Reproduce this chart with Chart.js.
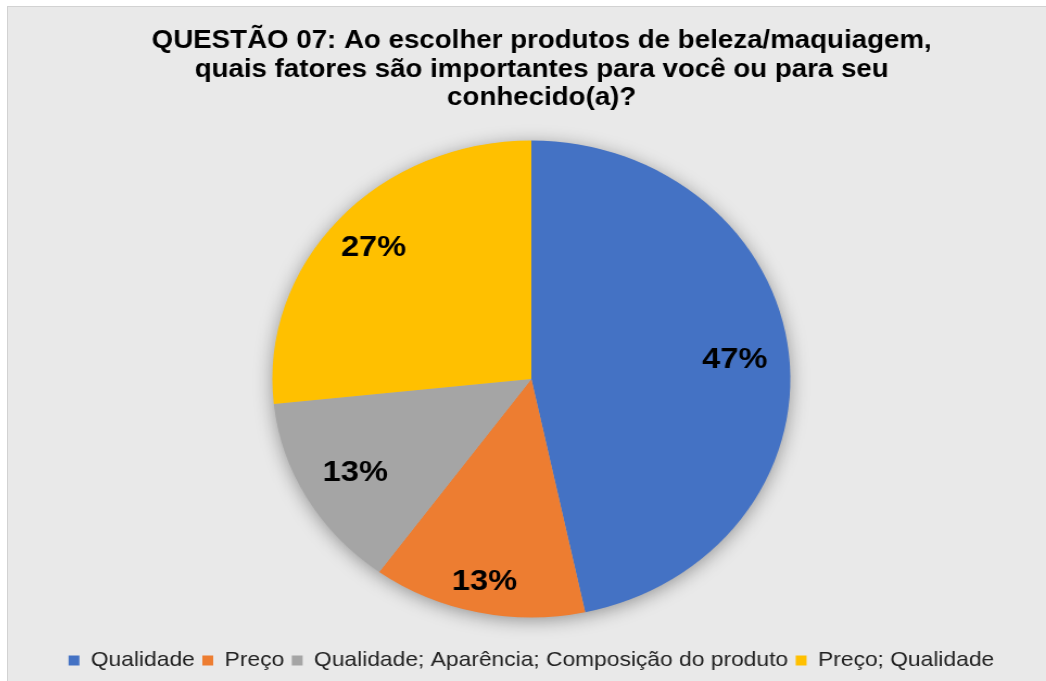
<!DOCTYPE html>
<html>
<head>
<meta charset="utf-8">
<script src="https://cdn.jsdelivr.net/npm/chart.js@4/dist/chart.umd.min.js"></script>
<style>
  html, body { margin: 0; padding: 0; background: #ffffff; width: 1046px; height: 681px; overflow: hidden; }
  #frame { position: absolute; left: 7px; top: 6px; width: 1039px; height: 675px; background: #e9e9e9;
           border-top: 1px solid #d2d2d2; border-left: 1px solid #d2d2d2; overflow: hidden; }
  #stretch { position: absolute; left: 0; top: 0; width: 956px; height: 674px; transform: scaleX(1.0858); transform-origin: 0 0; }
</style>
</head>
<body>
<div id="frame"><div id="stretch"><canvas id="c"></canvas></div></div>
<script>
// ---- data ----
const categories = ['Qualidade', 'Preço', 'Qualidade; Aparência; Composição do produto', 'Preço; Qualidade'];
const counts = [7, 2, 2, 4];
const sliceColors = ['#4472C4', '#ED7D31', '#A5A5A5', '#FFC000'];
const titleLines = [
  'QUESTÃO 07: Ao escolher produtos de beleza/maquiagem,',
  'quais fatores são importantes para você ou para seu',
  'conhecido(a)?'
];

Chart.defaults.font.family = '"Liberation Sans", Arial, sans-serif';

// spacer box on the right, to offset the pie slightly left of the title centre
const spacerPlugin = {
  id: 'spacer',
  beforeInit(chart) {
    const box = {
      position: 'right', weight: 0, fullSize: false, options: {},
      left: 0, top: 0, right: 0, bottom: 0, width: 0, height: 0,
      isHorizontal() { return false; },
      update(maxWidth, maxHeight) {
        this.width = 19; this.height = maxHeight;
        return { width: 19, height: maxHeight };
      },
      draw() {}
    };
    Chart.layouts.addBox(chart, box);
  }
};

const shadowPlugin = {
  id: 'pieShadow',
  beforeDatasetsDraw(chart) {
    const meta = chart.getDatasetMeta(0);
    if (!meta.data.length) return;
    const a = meta.data[0];
    const ctx = chart.ctx;
    ctx.save();
    ctx.shadowColor = 'rgba(0,0,0,0.38)';
    ctx.shadowBlur = 18;
    ctx.shadowOffsetX = 0;
    ctx.shadowOffsetY = 3;
    ctx.fillStyle = '#b0b0b0';
    ctx.beginPath();
    ctx.arc(a.x, a.y, a.outerRadius - 0.5, 0, Math.PI * 2);
    ctx.fill();
    ctx.restore();
  }
};

const labelPlugin = {
  id: 'sliceLabels',
  afterDatasetsDraw(chart, args, opts) {
    const meta = chart.getDatasetMeta(0);
    const total = counts.reduce((s, v) => s + v, 0);
    const ctx = chart.ctx;
    ctx.save();
    ctx.font = 'bold 30px "Liberation Sans", Arial, sans-serif';
    ctx.fillStyle = '#000000';
    ctx.textAlign = 'center';
    ctx.textBaseline = 'middle';
    meta.data.forEach((arc, i) => {
      const p = arc.getProps(['x', 'y', 'startAngle', 'endAngle', 'outerRadius'], true);
      const mid = (p.startAngle + p.endAngle) / 2;
      const r = p.outerRadius * opts.radialFactors[i];
      ctx.fillText(Math.round(counts[i] / total * 100) + '%', p.x + Math.cos(mid) * r, p.y + Math.sin(mid) * r);
    });
    ctx.restore();
  }
};

new Chart(document.getElementById('c'), {
  type: 'pie',
  data: {
    labels: categories,
    datasets: [{
      data: counts,
      backgroundColor: sliceColors,
      borderWidth: 0,
      radius: 238.5
    }]
  },
  options: {
    responsive: true,
    maintainAspectRatio: false,
    animation: false,
    events: [],
    layout: { padding: { left: 27, right: 0, top: 0, bottom: 0 } },
    plugins: {
      title: {
        display: true,
        text: titleLines,
        color: '#000000',
        font: { size: 25.5, weight: 'bold', lineHeight: 28.5 / 25.5 },
        padding: { top: 20, bottom: 2.5 }
      },
      legend: {
        display: true,
        position: 'bottom',
        fullSize: false,
        labels: {
          boxWidth: 10,
          boxHeight: 10,
          padding: 7,
          color: '#222222',
          font: { size: 21 }
        }
      },
      tooltip: { enabled: false },
      sliceLabels: { radialFactors: [0.79, 0.87, 0.785, 0.82] }
    }
  },
  plugins: [spacerPlugin, shadowPlugin, labelPlugin]
});
</script>
</body>
</html>
